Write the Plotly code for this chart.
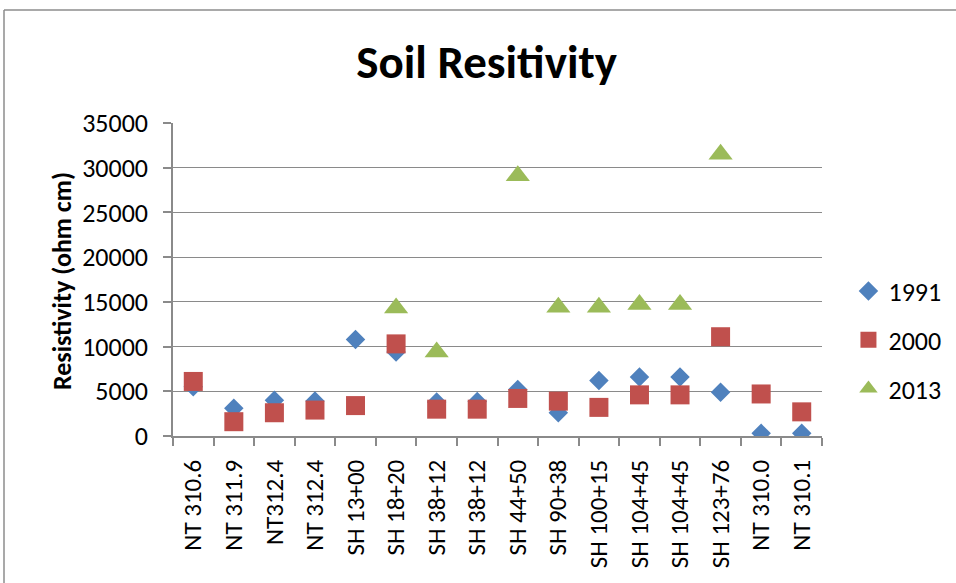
import plotly.graph_objects as go

categories = ["NT 310.6", "NT 311.9", "NT312.4", "NT 312.4", "SH 13+00", "SH 18+20",
              "SH 38+12", "SH 38+12", "SH 44+50", "SH 90+38", "SH 100+15", "SH 104+45",
              "SH 104+45", "SH 123+76", "NT 310.0", "NT 310.1"]
y1991 = [5500, 3100, 4000, 3900, 10800, 9400, 3800, 3850, 5200, 2600, 6200, 6600, 6600, 4900, 300, 300]
y2000 = [6100, 1600, 2600, 2900, 3400, 10300, 3000, 3000, 4200, 3900, 3200, 4600, 4600, 11100, 4700, 2700]
y2013 = [None, None, None, None, None, 14300, 9400, None, 29100, 14400, 14400, 14700, 14700, 31500, None, None]

xpos = list(range(len(categories)))
FONT = "Carlito, Liberation Sans, Arial, sans-serif"
GRID = "#8a8a8a"

fig = go.Figure()
fig.add_trace(go.Scatter(x=xpos, y=y1991, mode="markers", name="1991", legendgroup="a",
                         marker=dict(symbol="diamond", size=15, color="#4F81BD")))
fig.add_trace(go.Scatter(x=xpos, y=y2000, mode="markers", name="2000", legendgroup="b",
                         marker=dict(symbol="square", size=19, color="#C0504D")))
fig.add_trace(go.Scatter(x=xpos, y=y2013, mode="markers", name="2013", legendgroup="c",
                         marker=dict(symbol="triangle-up", size=21, color="#9BBB59")))

fig.update_layout(
    width=956, height=583,
    margin=dict(l=173, r=134, t=123, b=147),
    paper_bgcolor="white", plot_bgcolor="white",
    font=dict(family=FONT, size=25, color="black"),
    title=dict(text="<b>Soil Resitivity</b>", x=0.509, xanchor="center", y=0.894, yanchor="middle",
               font=dict(family=FONT, size=47, color="black")),
    legend=dict(xref="container", yref="container", x=0.8875, xanchor="left",
                y=0.4168, yanchor="middle", tracegroupgap=12,
                font=dict(size=26), itemwidth=30, bgcolor="rgba(0,0,0,0)"),
    showlegend=True,
)
fig.update_xaxes(range=[-0.5, len(categories) - 0.5], tickvals=xpos, ticktext=categories,
                 tickangle=-90, ticks="", showgrid=False, zeroline=False,
                 showline=True, linecolor=GRID, linewidth=1.5, ticklabelstandoff=12,
                 tickfont=dict(size=25), automargin=False,
                 minor=dict(tickmode="linear", tick0=-0.5, dtick=1, ticks="outside",
                            ticklen=8, tickcolor=GRID, tickwidth=1.5, showgrid=False))
fig.update_yaxes(range=[0, 35000], dtick=5000, tickformat="d", showgrid=True, gridcolor=GRID,
                 gridwidth=1.4, zeroline=False, showline=True, linecolor=GRID, linewidth=1.5,
                 ticks="outside", ticklen=8, tickcolor=GRID, tickwidth=1.5, ticklabelstandoff=10,
                 tickfont=dict(size=26), automargin=False)

fig.add_annotation(text="<b>Resistivity (ohm cm)</b>", xref="paper", yref="paper",
                   x=-0.171, y=0.495, xanchor="center", yanchor="middle",
                   textangle=-90, showarrow=False,
                   font=dict(family=FONT, size=26, color="black"))

# chart border (left and top edges visible)
fig.add_shape(type="line", xref="paper", yref="paper", x0=-0.2604, x1=-0.2604, y0=1.361, y1=-1,
              line=dict(color="#8c8c8c", width=1.5))
fig.add_shape(type="line", xref="paper", yref="paper", x0=-0.2604, x1=1.3, y0=1.361, y1=1.361,
              line=dict(color="#8c8c8c", width=1.5))

fig.write_html("out.html", config={"displayModeBar": False},
               post_script="document.body.style.margin='0';")
